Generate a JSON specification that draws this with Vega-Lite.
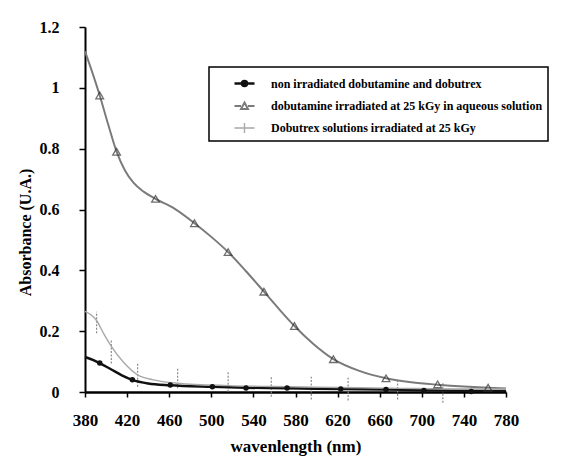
{
  "$schema": "https://vega.github.io/schema/vega-lite/v6.json",
  "width": 421,
  "height": 365,
  "autosize": {"type": "none"},
  "padding": {"left": 85, "top": 27, "right": 63, "bottom": 68},
  "background": "white",
  "config": {
    "view": {"stroke": null},
    "font": "Liberation Serif",
    "axis": {
      "grid": false,
      "domainColor": "black",
      "tickColor": "black",
      "labelColor": "black",
      "titleColor": "black",
      "labelFont": "Liberation Serif",
      "titleFont": "Liberation Serif",
      "labelFontWeight": "bold",
      "titleFontWeight": "bold"
    }
  },
  "datasets": {
    "curves": [
      {"series": "non irradiated dobutamine and dobutrex", "wavelength": 380, "absorbance": 0.115},
      {"series": "non irradiated dobutamine and dobutrex", "wavelength": 388, "absorbance": 0.105},
      {"series": "non irradiated dobutamine and dobutrex", "wavelength": 394, "absorbance": 0.095},
      {"series": "non irradiated dobutamine and dobutrex", "wavelength": 405, "absorbance": 0.074},
      {"series": "non irradiated dobutamine and dobutrex", "wavelength": 415, "absorbance": 0.055},
      {"series": "non irradiated dobutamine and dobutrex", "wavelength": 425, "absorbance": 0.04},
      {"series": "non irradiated dobutamine and dobutrex", "wavelength": 440, "absorbance": 0.028},
      {"series": "non irradiated dobutamine and dobutrex", "wavelength": 461, "absorbance": 0.022},
      {"series": "non irradiated dobutamine and dobutrex", "wavelength": 501, "absorbance": 0.017},
      {"series": "non irradiated dobutamine and dobutrex", "wavelength": 533, "absorbance": 0.014},
      {"series": "non irradiated dobutamine and dobutrex", "wavelength": 572, "absorbance": 0.012},
      {"series": "non irradiated dobutamine and dobutrex", "wavelength": 623, "absorbance": 0.01},
      {"series": "non irradiated dobutamine and dobutrex", "wavelength": 666, "absorbance": 0.008},
      {"series": "non irradiated dobutamine and dobutrex", "wavelength": 702, "absorbance": 0.006},
      {"series": "non irradiated dobutamine and dobutrex", "wavelength": 747, "absorbance": 0.004},
      {"series": "non irradiated dobutamine and dobutrex", "wavelength": 780, "absorbance": 0.003},
      {"series": "dobutamine irradiated at 25 kGy in aqueous solution", "wavelength": 380, "absorbance": 1.12},
      {"series": "dobutamine irradiated at 25 kGy in aqueous solution", "wavelength": 387, "absorbance": 1.05},
      {"series": "dobutamine irradiated at 25 kGy in aqueous solution", "wavelength": 394, "absorbance": 0.975},
      {"series": "dobutamine irradiated at 25 kGy in aqueous solution", "wavelength": 402, "absorbance": 0.88},
      {"series": "dobutamine irradiated at 25 kGy in aqueous solution", "wavelength": 410, "absorbance": 0.79},
      {"series": "dobutamine irradiated at 25 kGy in aqueous solution", "wavelength": 418, "absorbance": 0.728},
      {"series": "dobutamine irradiated at 25 kGy in aqueous solution", "wavelength": 426, "absorbance": 0.688},
      {"series": "dobutamine irradiated at 25 kGy in aqueous solution", "wavelength": 436, "absorbance": 0.658},
      {"series": "dobutamine irradiated at 25 kGy in aqueous solution", "wavelength": 447, "absorbance": 0.635},
      {"series": "dobutamine irradiated at 25 kGy in aqueous solution", "wavelength": 465, "absorbance": 0.603},
      {"series": "dobutamine irradiated at 25 kGy in aqueous solution", "wavelength": 484, "absorbance": 0.555},
      {"series": "dobutamine irradiated at 25 kGy in aqueous solution", "wavelength": 500, "absorbance": 0.51},
      {"series": "dobutamine irradiated at 25 kGy in aqueous solution", "wavelength": 516, "absorbance": 0.46},
      {"series": "dobutamine irradiated at 25 kGy in aqueous solution", "wavelength": 533, "absorbance": 0.397},
      {"series": "dobutamine irradiated at 25 kGy in aqueous solution", "wavelength": 550, "absorbance": 0.33},
      {"series": "dobutamine irradiated at 25 kGy in aqueous solution", "wavelength": 565, "absorbance": 0.27},
      {"series": "dobutamine irradiated at 25 kGy in aqueous solution", "wavelength": 579, "absorbance": 0.217},
      {"series": "dobutamine irradiated at 25 kGy in aqueous solution", "wavelength": 597, "absorbance": 0.158},
      {"series": "dobutamine irradiated at 25 kGy in aqueous solution", "wavelength": 616, "absorbance": 0.108},
      {"series": "dobutamine irradiated at 25 kGy in aqueous solution", "wavelength": 640, "absorbance": 0.07},
      {"series": "dobutamine irradiated at 25 kGy in aqueous solution", "wavelength": 666, "absorbance": 0.045},
      {"series": "dobutamine irradiated at 25 kGy in aqueous solution", "wavelength": 690, "absorbance": 0.032},
      {"series": "dobutamine irradiated at 25 kGy in aqueous solution", "wavelength": 715, "absorbance": 0.024},
      {"series": "dobutamine irradiated at 25 kGy in aqueous solution", "wavelength": 740, "absorbance": 0.018},
      {"series": "dobutamine irradiated at 25 kGy in aqueous solution", "wavelength": 763, "absorbance": 0.014},
      {"series": "dobutamine irradiated at 25 kGy in aqueous solution", "wavelength": 780, "absorbance": 0.012},
      {"series": "Dobutrex solutions irradiated at 25 kGy", "wavelength": 380, "absorbance": 0.265},
      {"series": "Dobutrex solutions irradiated at 25 kGy", "wavelength": 391, "absorbance": 0.235},
      {"series": "Dobutrex solutions irradiated at 25 kGy", "wavelength": 398, "absorbance": 0.19},
      {"series": "Dobutrex solutions irradiated at 25 kGy", "wavelength": 405, "absorbance": 0.15},
      {"series": "Dobutrex solutions irradiated at 25 kGy", "wavelength": 416, "absorbance": 0.1},
      {"series": "Dobutrex solutions irradiated at 25 kGy", "wavelength": 430, "absorbance": 0.056},
      {"series": "Dobutrex solutions irradiated at 25 kGy", "wavelength": 445, "absorbance": 0.04},
      {"series": "Dobutrex solutions irradiated at 25 kGy", "wavelength": 468, "absorbance": 0.029},
      {"series": "Dobutrex solutions irradiated at 25 kGy", "wavelength": 516, "absorbance": 0.021},
      {"series": "Dobutrex solutions irradiated at 25 kGy", "wavelength": 560, "absorbance": 0.018},
      {"series": "Dobutrex solutions irradiated at 25 kGy", "wavelength": 620, "absorbance": 0.015},
      {"series": "Dobutrex solutions irradiated at 25 kGy", "wavelength": 680, "absorbance": 0.012},
      {"series": "Dobutrex solutions irradiated at 25 kGy", "wavelength": 740, "absorbance": 0.01},
      {"series": "Dobutrex solutions irradiated at 25 kGy", "wavelength": 780, "absorbance": 0.01}
    ],
    "circles": [
      {"wavelength": 394, "absorbance": 0.095},
      {"wavelength": 425, "absorbance": 0.04},
      {"wavelength": 461, "absorbance": 0.023},
      {"wavelength": 501, "absorbance": 0.017},
      {"wavelength": 533, "absorbance": 0.013},
      {"wavelength": 572, "absorbance": 0.013},
      {"wavelength": 623, "absorbance": 0.01},
      {"wavelength": 666, "absorbance": 0.008},
      {"wavelength": 702, "absorbance": 0.005},
      {"wavelength": 747, "absorbance": 0.002}
    ],
    "triangles": [
      {"wavelength": 394, "absorbance": 0.975},
      {"wavelength": 410, "absorbance": 0.79},
      {"wavelength": 447, "absorbance": 0.635},
      {"wavelength": 484, "absorbance": 0.555},
      {"wavelength": 516, "absorbance": 0.46},
      {"wavelength": 550, "absorbance": 0.33},
      {"wavelength": 579, "absorbance": 0.217},
      {"wavelength": 616, "absorbance": 0.108},
      {"wavelength": 666, "absorbance": 0.045},
      {"wavelength": 715, "absorbance": 0.025},
      {"wavelength": 763, "absorbance": 0.014}
    ],
    "errorbars": [
      {"wavelength": 391, "low": 0.193, "high": 0.264},
      {"wavelength": 405, "low": 0.094, "high": 0.171},
      {"wavelength": 430, "low": 0.017, "high": 0.094},
      {"wavelength": 468, "low": 0.012, "high": 0.078},
      {"wavelength": 516, "low": 0.001, "high": 0.067},
      {"wavelength": 557, "low": -0.016, "high": 0.05},
      {"wavelength": 595, "low": -0.025, "high": 0.05},
      {"wavelength": 630, "low": -0.028, "high": 0.047},
      {"wavelength": 677, "low": -0.025, "high": 0.037},
      {"wavelength": 720, "low": -0.035, "high": 0.032}
    ]
  },
  "encoding": {
    "x": {
      "field": "wavelength",
      "type": "quantitative",
      "scale": {"domain": [380, 780], "nice": false, "zero": false},
      "axis": {
        "title": "wavenlength (nm)",
        "values": [380, 420, 460, 500, 540, 580, 620, 660, 700, 740, 780],
        "domainWidth": 2.5,
        "tickSize": 5,
        "tickWidth": 1.5,
        "labelFontSize": 17,
        "labelPadding": 15,
        "labelFlush": false,
        "titleFontSize": 17,
        "titlePadding": 10
      }
    },
    "y": {
      "field": "absorbance",
      "type": "quantitative",
      "scale": {"domain": [0, 1.2], "nice": false},
      "axis": {
        "title": "Absorbance (U.A.)",
        "values": [0, 0.2, 0.4, 0.6, 0.8, 1, 1.2],
        "format": "~g",
        "domainWidth": 2,
        "tickSize": 6,
        "tickWidth": 1.5,
        "labelFontSize": 16,
        "labelPadding": 20,
        "titleFontSize": 16,
        "titleX": -60,
        "titleY": 205,
        "titleBaseline": "middle"
      }
    }
  },
  "layer": [
    {
      "data": {"name": "errorbars"},
      "mark": {"type": "rule", "color": "#8a8a8a", "strokeWidth": 1.2, "strokeDash": [2, 1.5]},
      "encoding": {
        "y": {"field": "low", "type": "quantitative"},
        "y2": {"field": "high"}
      }
    },
    {
      "data": {"name": "curves"},
      "mark": {"type": "line", "interpolate": "monotone"},
      "encoding": {
        "color": {
          "field": "series",
          "type": "nominal",
          "scale": {
            "domain": ["non irradiated dobutamine and dobutrex", "dobutamine irradiated at 25 kGy in aqueous solution", "Dobutrex solutions irradiated at 25 kGy"],
            "range": ["#111111", "#7a7a7a", "#a8a8a8"]
          },
          "legend": {
            "orient": "none",
            "legendX": 124,
            "legendY": 40,
            "title": null,
            "padding": 5,
            "symbolOffset": 19,
            "symbolSize": 400,
            "symbolStrokeWidth": 1.5,
            "labelFont": "Liberation Serif",
            "labelFontWeight": "bold",
            "labelFontSize": 12,
            "labelColor": "black",
            "labelOffset": 15,
            "labelLimit": 400,
            "rowPadding": 4,
            "strokeColor": "black",
            "encode": {
              "legend": {"update": {"strokeWidth": {"value": 1.5}}},
              "symbols": {
                "update": {
                  "shape": {"signal": "datum.value === 'non irradiated dobutamine and dobutrex' ? 'M-1,0H1M-0.25,0A0.25,0.25,0,1,1,0.25,0A0.25,0.25,0,1,1,-0.25,0Z' : (datum.value === 'Dobutrex solutions irradiated at 25 kGy' ? 'M-1,0H1M0,-0.5V0.5' : 'M-1,0H-0.35M0.35,0H1M0,-0.35L0.35,0.3L-0.35,0.3Z')"},
                  "fill": {"signal": "datum.value === 'non irradiated dobutamine and dobutrex' ? '#111111' : 'transparent'"},
                  "strokeWidth": {"value": 1.5}
                }
              }
            }
          }
        },
        "strokeWidth": {
          "field": "series",
          "type": "nominal",
          "scale": {
            "domain": ["non irradiated dobutamine and dobutrex", "dobutamine irradiated at 25 kGy in aqueous solution", "Dobutrex solutions irradiated at 25 kGy"],
            "range": [2.5, 1.4, 2.5]
          },
          "legend": null
        }
      }
    },
    {
      "data": {"name": "triangles"},
      "mark": {"type": "point", "shape": "triangle-up", "filled": false, "stroke": "#333333", "strokeWidth": 1.3, "size": 60}
    },
    {
      "data": {"name": "circles"},
      "mark": {"type": "point", "shape": "circle", "filled": true, "fill": "#111111", "opacity": 1, "size": 30}
    }
  ]
}
